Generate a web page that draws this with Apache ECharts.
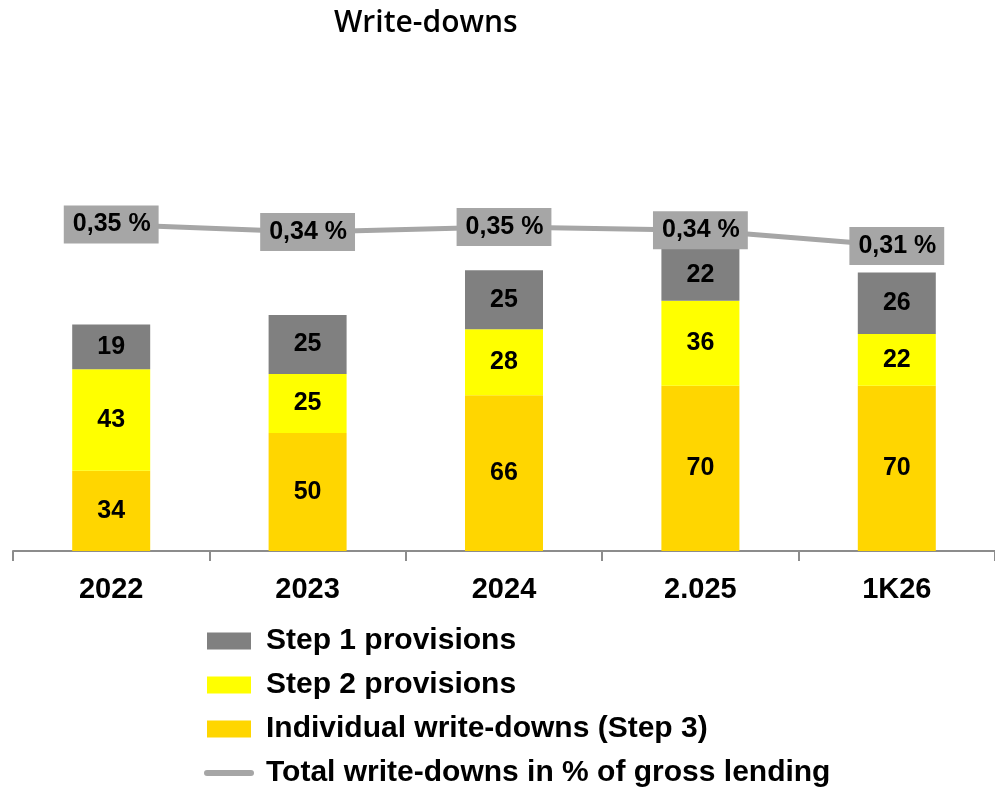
<!DOCTYPE html>
<html>
<head>
<meta charset="utf-8">
<script src="https://cdn.jsdelivr.net/npm/echarts@6/dist/echarts.min.js"></script>
<style>html,body{margin:0;padding:0;background:#fff;}#c{width:995px;height:789px;}</style>
</head>
<body>
<div id="c"></div>
<script>
const titleText = 'Write-downs';
const categories = ['2022', '2023', '2024', '2.025', '1K26'];
const step3 = [34, 50, 66, 70, 70];
const step2 = [43, 25, 28, 36, 22];
const step1 = [19, 25, 25, 22, 26];
const ratio = [0.352, 0.338, 0.347, 0.341, 0.312];
const seriesNames = ['Step 1 provisions', 'Step 2 provisions', 'Individual write-downs (Step 3)', 'Total write-downs in % of gross lending'];

const FONT = '"Liberation Sans", Arial, sans-serif';
const chart = echarts.init(document.getElementById('c'), null, {renderer: 'canvas'});
const barLabel = {show: true, position: 'inside', color: '#000', fontFamily: FONT, fontWeight: 'bold', fontSize: 25};

chart.setOption({
  animation: false,
  backgroundColor: '#fff',
  graphic: [{
    type: 'text', left: 334, top: 8,
    style: {text: titleText, fontFamily: '"Open Sans", sans-serif', fontWeight: 600, fontSize: 30, fill: '#000'}
  }],
  grid: {left: 13, width: 989, top: 79, bottom: 238},
  legend: {
    orient: 'vertical', left: 204, top: 626, padding: 0,
    itemWidth: 50, itemHeight: 17, itemGap: 14,
    data: [
      {name: seriesNames[0], icon: 'path://M3,0 H47 V17 H3 Z'},
      {name: seriesNames[1], icon: 'path://M3,0 H47 V17 H3 Z'},
      {name: seriesNames[2], icon: 'path://M3,0 H47 V17 H3 Z'},
      {name: seriesNames[3], icon: 'path://M3,0 H47 A3,3 0 0 1 47,6 H3 A3,3 0 0 1 3,0 Z'}
    ],
    textStyle: {fontFamily: FONT, fontWeight: 'bold', fontSize: 30, lineHeight: 30, color: '#000', padding: [0, 0, 0, 7]}
  },
  xAxis: {
    type: 'category', data: categories,
    axisLine: {lineStyle: {color: '#8c8c8c', width: 2}},
    axisTick: {show: true, length: 10, lineStyle: {color: '#8c8c8c', width: 2}},
    axisLabel: {color: '#000', fontFamily: FONT, fontWeight: 'bold', fontSize: 29, margin: 24}
  },
  yAxis: [
    {type: 'value', min: 0, max: 200, show: false, splitLine: {show: false}},
    {type: 'value', min: -0.25, max: 0.62, show: false, splitLine: {show: false}}
  ],
  series: [
    {name: seriesNames[2], type: 'bar', stack: 'a', barWidth: 78, data: step3, itemStyle: {color: '#FFD600'}, label: barLabel},
    {name: seriesNames[1], type: 'bar', stack: 'a', data: step2, itemStyle: {color: '#FFFF00'}, label: barLabel},
    {name: seriesNames[0], type: 'bar', stack: 'a', data: step1, itemStyle: {color: '#808080'}, label: barLabel},
    {
      name: seriesNames[3], type: 'line', yAxisIndex: 1, data: ratio, z: 10,
      symbol: 'circle', symbolSize: 0, showSymbol: true,
      lineStyle: {color: '#A6A6A6', width: 5}, itemStyle: {color: '#A6A6A6'},
      label: {
        show: true, position: 'inside', color: '#000', fontFamily: FONT, fontWeight: 'bold', fontSize: 25,
        backgroundColor: '#A6A6A6', padding: [7, 8, 6, 9],
        formatter: p => p.value.toFixed(2).replace('.', ',') + ' %'
      }
    }
  ]
});
</script>
</body>
</html>
